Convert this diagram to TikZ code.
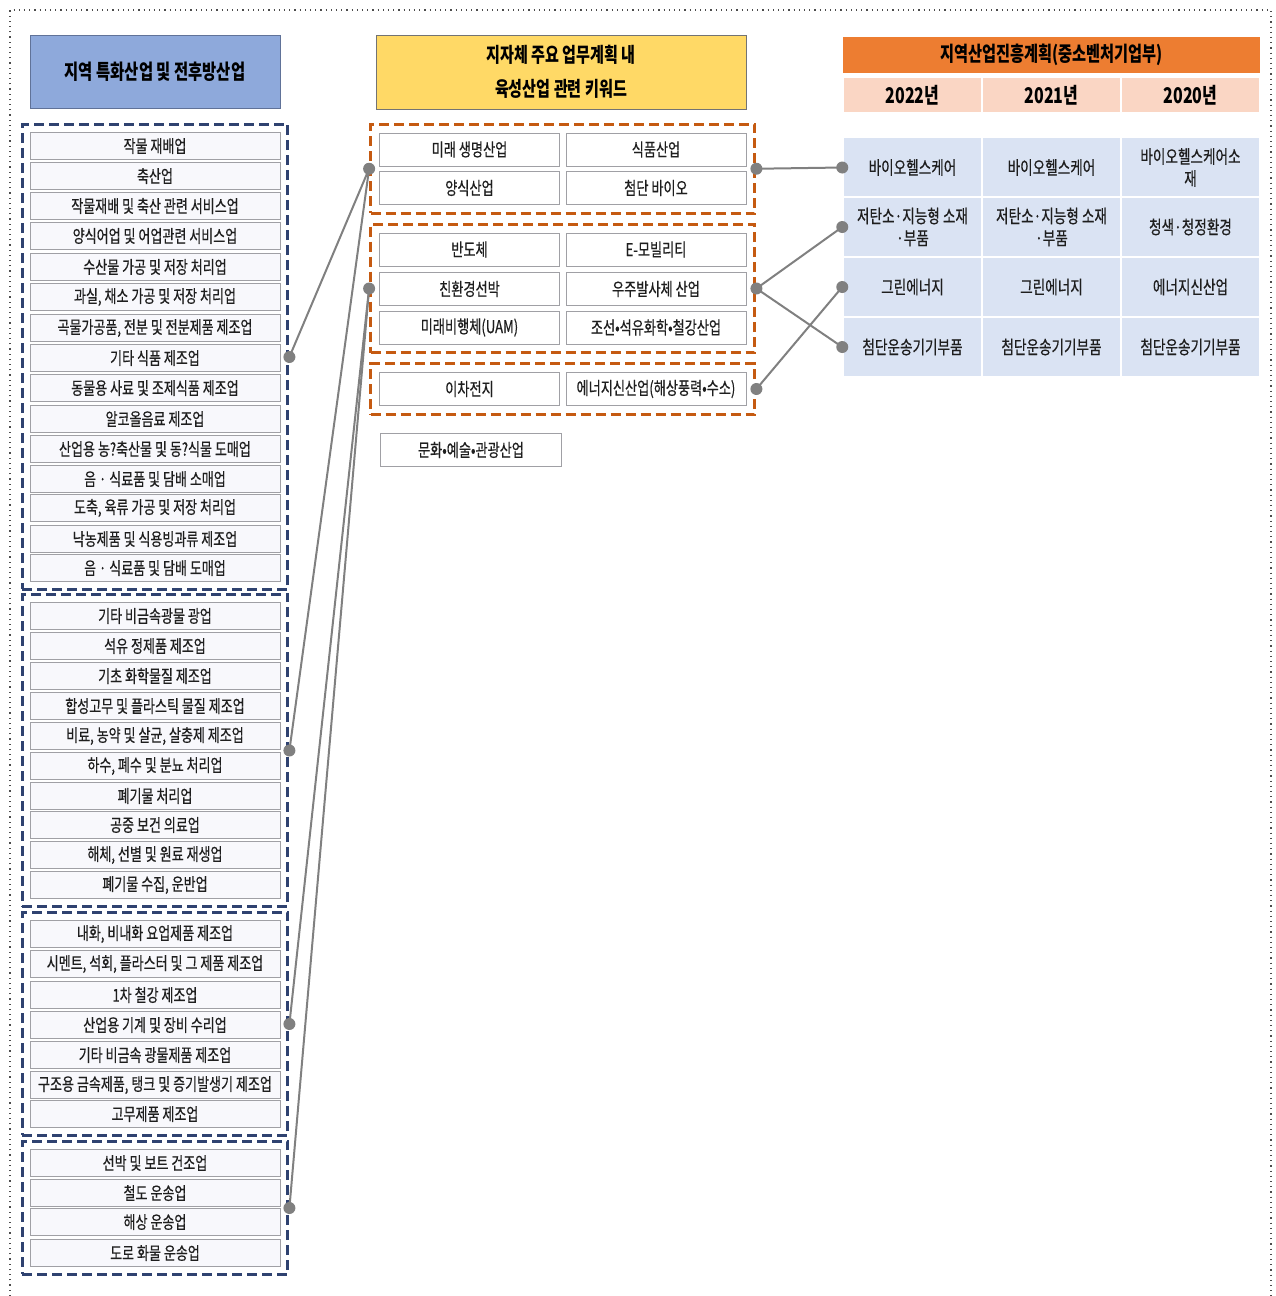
\documentclass[tikz,border=0pt]{standalone}
\usepackage{fontspec}
\setmainfont{Noto Sans CJK KR}[FakeStretch=0.74, UprightFeatures={FakeBold=0.4}]
\usetikzlibrary{fit}
\definecolor{headblue}{RGB}{142,169,219}
\definecolor{headline}{RGB}{96,114,152}
\definecolor{navyline}{RGB}{47,66,112}
\definecolor{lavender}{RGB}{248,248,252}
\definecolor{boxgray}{RGB}{160,160,165}
\definecolor{headyellow}{RGB}{255,217,102}
\definecolor{burnt}{RGB}{197,90,17}
\definecolor{orangebar}{RGB}{237,125,49}
\definecolor{peach}{RGB}{250,214,196}
\definecolor{cellblue}{RGB}{218,227,243}
\definecolor{linkgray}{RGB}{128,128,128}
\definecolor{inkgray}{RGB}{30,30,30}

\tikzset{
  leftitem/.style={draw=boxgray, fill=lavender, minimum width=125pt, minimum height=13.5pt, inner sep=0pt, text=inkgray, font=\fontsize{8.8}{10}\selectfont},
  miditem/.style={draw=boxgray, fill=white, minimum width=90pt, minimum height=16.5pt, inner sep=0pt, text=inkgray, font=\fontsize{8.9}{10}\selectfont},
  indgroup/.style={draw=navyline, line width=1.5pt, dash pattern=on 5pt off 2.5pt, inner sep=3.75pt},
  kwgroup/.style={draw=burnt, line width=1.5pt, dash pattern=on 5pt off 2.5pt, inner sep=4.25pt},
  gridcell/.style={draw=white, line width=0.75pt, fill=cellblue, minimum width=69.5pt, minimum height=30pt, inner sep=0pt, align=center, text=inkgray, font=\fontsize{9.2}{11}\selectfont},
  yearcell/.style={draw=white, line width=0.75pt, fill=peach, minimum width=69.5pt, minimum height=18pt, inner sep=0pt, font=\fontsize{10.8}{12}\selectfont\bfseries},
  joint/.style={circle, fill=linkgray, inner sep=0pt, minimum size=6pt},
  link/.style={draw=linkgray, line width=1pt}
}

\begin{document}
\begin{tikzpicture}[x=0.5pt, y=-0.5pt]
  \useasboundingbox (0,0) rectangle (1275,1296);
  % Frame
  \draw[black!70, dotted, line width=0.6pt] (10,1296) -- (10,10) -- (1271,10) -- (1271,1296);

  % Left headers and industries
  \node[draw=headline, fill=headblue, minimum width=125pt, minimum height=36.5pt, font=\fontsize{10.4}{12}\selectfont\bfseries] (indhead) at (155,71.5) {지역 특화산업 및 전후방산업};

  \node[leftitem] (ia1) at (155,146) {작물 재배업};
  \node[leftitem] (ia2) at (155,176) {축산업};
  \node[leftitem] (ia3) at (155,206) {작물재배 및 축산 관련 서비스업};
  \node[leftitem] (ia4) at (155,236) {양식어업 및 어업관련 서비스업};
  \node[leftitem] (ia5) at (155,267) {수산물 가공 및 저장 처리업};
  \node[leftitem] (ia6) at (155,297) {과실, 채소 가공 및 저장 처리업};
  \node[leftitem] (ia7) at (155,328) {곡물가공품, 전분 및 전분제품 제조업};
  \node[leftitem] (ia8) at (155,358) {기타 식품 제조업};
  \node[leftitem] (ia9) at (155,388) {동물용 사료 및 조제식품 제조업};
  \node[leftitem] (ia10) at (155,419) {알코올음료 제조업};
  \node[leftitem] (ia11) at (155,449) {산업용 농?축산물 및 동?식물 도매업};
  \node[leftitem] (ia12) at (155,479) {음 · 식료품 및 담배 소매업};
  \node[leftitem] (ia13) at (155,508) {도축, 육류 가공 및 저장 처리업};
  \node[leftitem] (ia14) at (155,539) {낙농제품 및 식용빙과류 제조업};
  \node[leftitem] (ia15) at (155,568) {음 · 식료품 및 담배 도매업};
  \node[indgroup, fit=(ia1)(ia15)] (indA) {};

  \node[leftitem] (ib1) at (155,616) {기타 비금속광물 광업};
  \node[leftitem] (ib2) at (155,646) {석유 정제품 제조업};
  \node[leftitem] (ib3) at (155,676) {기초 화학물질 제조업};
  \node[leftitem] (ib4) at (155,706) {합성고무 및 플라스틱 물질 제조업};
  \node[leftitem] (ib5) at (155,736) {비료, 농약 및 살균, 살충제 제조업};
  \node[leftitem] (ib6) at (155,766) {하수, 폐수 및 분뇨 처리업};
  \node[leftitem] (ib7) at (155,796) {폐기물 처리업};
  \node[leftitem] (ib8) at (155,825) {공중 보건 의료업};
  \node[leftitem] (ib9) at (155,855) {해체, 선별 및 원료 재생업};
  \node[leftitem] (ib10) at (155,885) {폐기물 수집, 운반업};
  \node[indgroup, fit=(ib1)(ib10)] (indB) {};

  \node[leftitem] (ic1) at (155,934) {내화, 비내화 요업제품 제조업};
  \node[leftitem] (ic2) at (155,964) {시멘트, 석회, 플라스터 및 그 제품 제조업};
  \node[leftitem] (ic3) at (155,995) {1차 철강 제조업};
  \node[leftitem] (ic4) at (155,1025) {산업용 기계 및 장비 수리업};
  \node[leftitem] (ic5) at (155,1055) {기타 비금속 광물제품 제조업};
  \node[leftitem] (ic6) at (155,1085) {구조용 금속제품, 탱크 및 증기발생기 제조업};
  \node[leftitem] (ic7) at (155,1114) {고무제품 제조업};
  \node[indgroup, fit=(ic1)(ic7)] (indC) {};

  \node[leftitem] (id1) at (155,1163) {선박 및 보트 건조업};
  \node[leftitem] (id2) at (155,1193) {철도 운송업};
  \node[leftitem] (id3) at (155,1222) {해상 운송업};
  \node[leftitem] (id4) at (155,1253) {도로 화물 운송업};
  \node[indgroup, fit=(id1)(id4)] (indD) {};

  % Middle keywords
  \node[draw=black!55, fill=headyellow, minimum width=185pt, minimum height=37pt, align=center, font=\fontsize{10.2}{17}\selectfont\bfseries] (kwhead) at (561,72) {지자체 주요 업무계획 내\\육성산업 관련 키워드};

  \node[miditem] (ka1) at (469.5,149.5) {미래 생명산업};
  \node[miditem] (ka2) at (656,149.5) {식품산업};
  \node[miditem] (ka3) at (469.5,188) {양식산업};
  \node[miditem] (ka4) at (656,188) {첨단 바이오};
  \node[kwgroup, fit=(ka1)(ka4)] (kwA) {};

  \node[miditem] (kb1) at (469.5,249.5) {반도체};
  \node[miditem] (kb2) at (656,249.5) {E-모빌리티};
  \node[miditem] (kb3) at (469.5,289) {친환경선박};
  \node[miditem] (kb4) at (656,289) {우주발사체 산업};
  \node[miditem] (kb5) at (469.5,327.5) {미래비행체(UAM)};
  \node[miditem] (kb6) at (656,327.5) {조선•석유화학•철강산업};
  \node[kwgroup, fit=(kb1)(kb6)] (kwB) {};

  \node[miditem] (kc1) at (469.5,389) {이차전지};
  \node[miditem] (kc2) at (656,389) {에너지신산업(해상풍력•수소)};
  \node[kwgroup, fit=(kc1)(kc2)] (kwC) {};

  \node[miditem, minimum width=90.5pt] (kd1) at (471,450) {문화•예술•관광산업};

  % Right plan table
  \node[fill=orangebar, minimum width=208.5pt, minimum height=18pt, inner sep=0pt, font=\fontsize{10.3}{12}\selectfont\bfseries] (planhead) at (1051.5,55) {지역산업진흥계획(중소벤처기업부)};
  \node[yearcell] (y22) at (912.5,95) {2022년};
  \node[yearcell] (y21) at (1051.5,95) {2021년};
  \node[yearcell] (y20) at (1190.5,95) {2020년};

  \node[gridcell] (y22r1) at (912.5,167.5) {바이오헬스케어};
  \node[gridcell] (y21r1) at (1051.5,167.5) {바이오헬스케어};
  \node[gridcell] (y20r1) at (1190.5,167.5) {바이오헬스케어소\\재};
  \node[gridcell] (y22r2) at (912.5,227) {저탄소·지능형 소재\\·부품};
  \node[gridcell] (y21r2) at (1051.5,227) {저탄소·지능형 소재\\·부품};
  \node[gridcell] (y20r2) at (1190.5,227) {청색·청정환경};
  \node[gridcell] (y22r3) at (912.5,287) {그린에너지};
  \node[gridcell] (y21r3) at (1051.5,287) {그린에너지};
  \node[gridcell] (y20r3) at (1190.5,287) {에너지신산업};
  \node[gridcell] (y22r4) at (912.5,347) {첨단운송기기부품};
  \node[gridcell] (y21r4) at (1051.5,347) {첨단운송기기부품};
  \node[gridcell] (y20r4) at (1190.5,347) {첨단운송기기부품};

  % Links
  \draw[link] (indA.east) -- (kwA.west);
  \draw[link] (indB.east) -- (kwA.west);
  \draw[link] (indC.east) -- (kwB.west);
  \draw[link] (indD.east) -- (kwB.west);
  \draw[link] (kwA.east) -- (y22r1.west);
  \draw[link] (kwB.east) -- (y22r2.west);
  \draw[link] (kwB.east) -- (y22r4.west);
  \draw[link] (kwC.east) -- (y22r3.west);

  \node[joint] at (indA.east) {};
  \node[joint] at (indB.east) {};
  \node[joint] at (indC.east) {};
  \node[joint] at (indD.east) {};
  \node[joint] at (kwA.west) {};
  \node[joint] at (kwB.west) {};
  \node[joint] at (kwA.east) {};
  \node[joint] at (kwB.east) {};
  \node[joint] at (kwC.east) {};
  \node[joint] at (y22r1.west) {};
  \node[joint] at (y22r2.west) {};
  \node[joint] at (y22r3.west) {};
  \node[joint] at (y22r4.west) {};
\end{tikzpicture}
\end{document}
